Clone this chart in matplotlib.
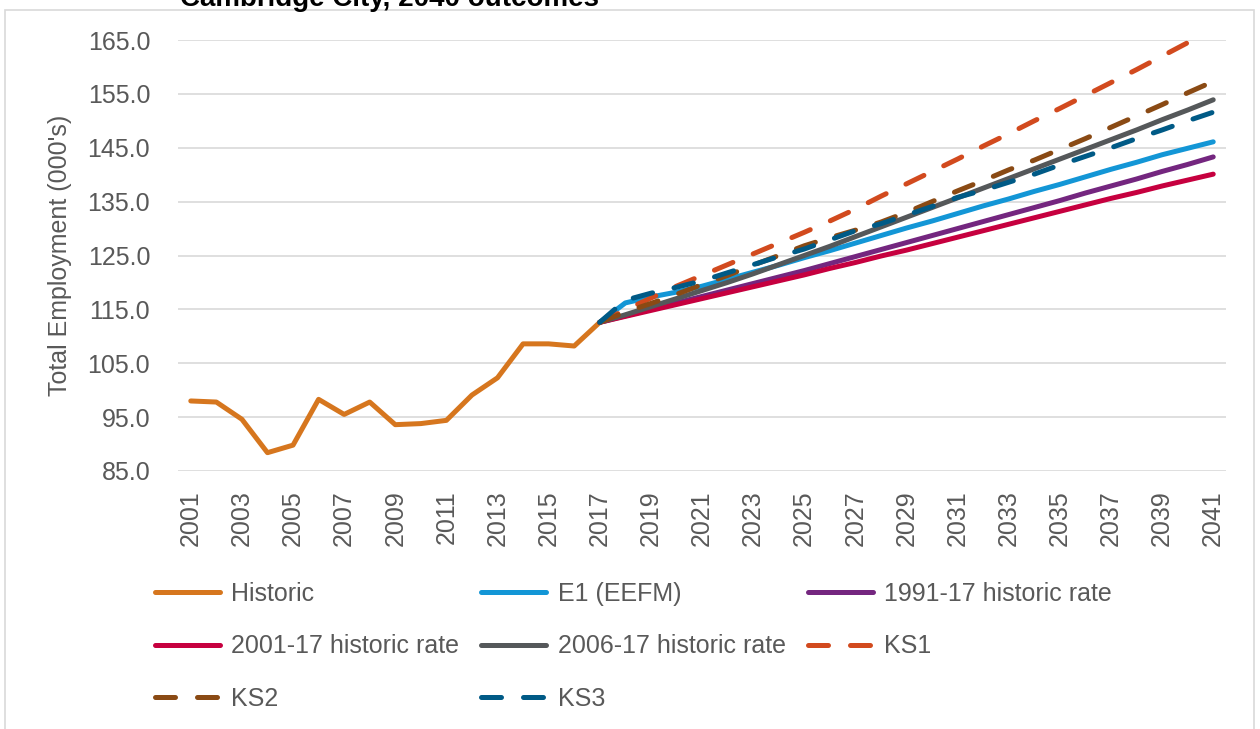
import matplotlib
matplotlib.use("Agg")
import matplotlib.pyplot as plt
from matplotlib.patches import Rectangle

plt.rcParams["font.family"] = ["Liberation Sans", "DejaVu Sans"]

# --- data ---
hist_years = list(range(2001, 2018))
proj_years = list(range(2017, 2042))

historic = [98.0, 97.8, 94.6, 88.4, 89.8, 98.3, 95.5, 97.8, 93.6, 93.8,
            94.4, 99.1, 102.3, 108.6, 108.6, 108.2, 112.6]

e1_eefm = [112.6, 116.2, 117.3, 118.2, 119.3, 120.6, 121.9, 123.2, 124.6, 125.9,
           127.3, 128.7, 130.1, 131.4, 132.8, 134.2, 135.5, 136.9, 138.2, 139.6,
           141.0, 142.3, 143.7, 144.9, 146.1]
rate_1991 = [112.6, 113.8, 115.0, 116.2, 117.4, 118.6, 119.8, 121.0, 122.2, 123.5,
             124.8, 126.1, 127.4, 128.7, 130.0, 131.3, 132.6, 133.9, 135.2, 136.6,
             137.9, 139.2, 140.6, 141.9, 143.3]
rate_2001 = [112.6, 113.7, 114.8, 115.9, 117.0, 118.1, 119.2, 120.3, 121.4, 122.6,
             123.7, 124.9, 126.0, 127.2, 128.4, 129.6, 130.8, 132.0, 133.2, 134.4,
             135.6, 136.7, 137.9, 139.0, 140.1]
rate_2006 = [112.6, 114.0, 115.5, 117.0, 118.5, 120.0, 121.6, 123.3, 125.0, 126.7,
             128.5, 130.3, 132.1, 133.9, 135.7, 137.5, 139.3, 141.1, 142.9, 144.7,
             146.5, 148.3, 150.2, 152.0, 153.9]
ks1 = [112.6, 114.9, 117.1, 119.3, 121.3, 123.3, 125.3, 127.3, 129.3, 131.4,
       133.6, 136.0, 138.3, 140.6, 142.9, 145.3, 147.6, 150.0, 152.3, 154.7,
       157.1, 159.5, 162.0, 164.5, 167.0]
ks2 = [112.6, 114.5, 116.1, 117.8, 119.6, 121.3, 123.2, 125.0, 126.8, 128.3,
       129.7, 131.2, 133.0, 135.0, 137.0, 138.9, 140.9, 142.7, 144.7, 146.7,
       148.8, 150.9, 153.0, 155.2, 157.3]
ks3 = [112.6, 116.7, 118.0, 119.1, 120.3, 121.8, 123.3, 124.8, 126.2, 127.9,
       129.6, 130.9, 132.5, 134.1, 135.8, 137.1, 138.6, 140.1, 141.8, 143.4,
       145.0, 146.7, 148.3, 150.0, 151.6]

y_ticks = [85.0, 95.0, 105.0, 115.0, 125.0, 135.0, 145.0, 155.0, 165.0]
x_ticks = list(range(2001, 2042, 2))

TXT = "#595959"
LW = 3.6
DASH = (0, (4.0, 4.4))

fig = plt.figure(figsize=(12.6, 7.29), dpi=100)
fig.patches.append(Rectangle((5 / 1260, -0.02), 1249 / 1260, 1 - 10 / 729 + 0.02,
                             transform=fig.transFigure, fill=False,
                             edgecolor="#D9D9D9", linewidth=1.2))
# title sits partly above the top edge, as in the source image
fig.text(390 / 1260, 1 - 6 / 729, "Cambridge City, 2040 outcomes", ha="center",
         va="baseline", fontsize=20, fontweight="bold", color="black")

ax = fig.add_axes([178 / 1260, 1 - 471 / 729, 1048 / 1260, 431 / 729])

series = [
    ("Historic", hist_years, historic, "#D6761E", "-"),
    ("E1 (EEFM)", proj_years, e1_eefm, "#1396D6", "-"),
    ("1991-17 historic rate", proj_years, rate_1991, "#74267F", "-"),
    ("2001-17 historic rate", proj_years, rate_2001, "#C6003F", "-"),
    ("2006-17 historic rate", proj_years, rate_2006, "#55585A", "-"),
    ("KS1", proj_years, ks1, "#D24A1E", DASH),
    ("KS2", proj_years, ks2, "#8A4A14", DASH),
    ("KS3", proj_years, ks3, "#005A86", DASH),
]
handles = {}
for name, xs, ys, col, ls in series:
    h, = ax.plot(xs, ys, color=col, linestyle=ls, linewidth=LW,
                 solid_capstyle="round", dash_capstyle="round", label=name)
    handles[name] = h

ax.set_xlim(2000.5, 2041.5)
ax.set_ylim(85, 165)
ax.set_yticks(y_ticks)
ax.set_yticklabels([f"{v:.1f}" for v in y_ticks])
ax.set_xticks(x_ticks)
ax.set_xticklabels([str(v) for v in x_ticks], rotation=90)
ax.tick_params(axis="both", length=0, labelsize=18, labelcolor=TXT)
ax.tick_params(axis="y", pad=20)
ax.tick_params(axis="x", pad=14)
ax.grid(axis="y", color="#D9D9D9", linewidth=1.2)
ax.set_axisbelow(True)
for s in ax.spines.values():
    s.set_visible(False)

fig.text(60 / 1260, 1 - 255 / 729, "Total Employment (000's)", rotation=90,
         ha="center", va="center", fontsize=18, color=TXT)

# column-major order so the rows read like the original legend
order = ["Historic", "2001-17 historic rate", "KS2", "E1 (EEFM)",
         "2006-17 historic rate", "KS3", "1991-17 historic rate", "KS1"]
leg = fig.legend([handles[n] for n in order], order, ncol=3,
                 loc="upper left", bbox_to_anchor=(155 / 1260, 1 - 582 / 729),
                 frameon=False, fontsize=18, handlelength=2.6, handletextpad=0.45,
                 columnspacing=0.88, labelspacing=1.13, borderaxespad=0,
                 borderpad=0)
for t in leg.get_texts():
    t.set_color(TXT)

fig.savefig("out.png", dpi=100)
